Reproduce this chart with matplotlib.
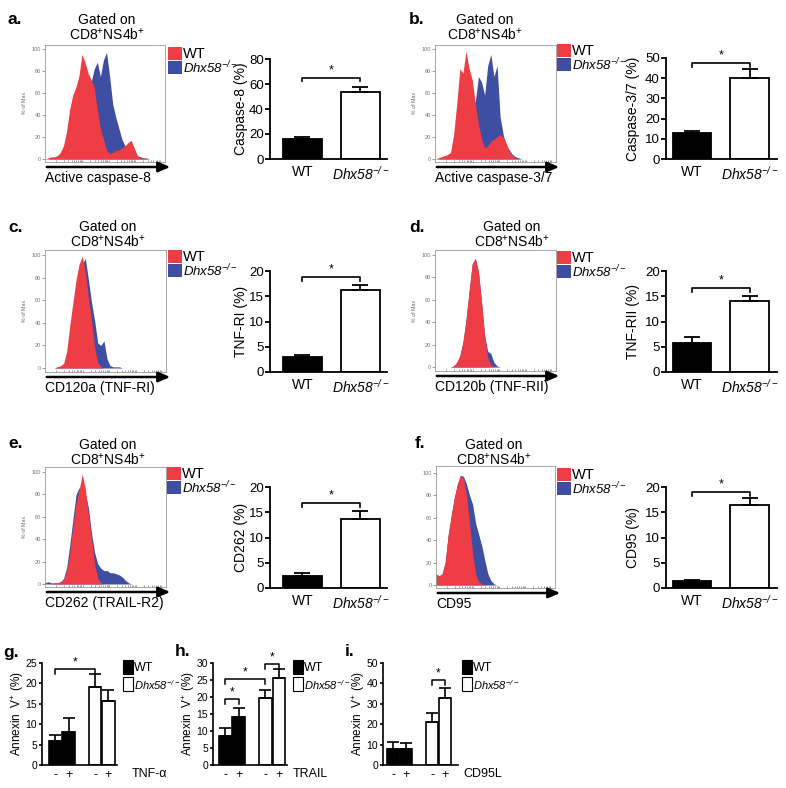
import matplotlib
matplotlib.use('Agg')
import numpy as np
import matplotlib.pyplot as plt
from matplotlib.patches import Rectangle, FancyArrowPatch

plt.rcParams['font.family'] = ['Liberation Sans', 'DejaVu Sans']
plt.rcParams['mathtext.fontset'] = 'custom'
plt.rcParams['mathtext.rm'] = 'Liberation Sans'
plt.rcParams['mathtext.it'] = 'Liberation Sans:italic'
plt.rcParams['mathtext.sf'] = 'Liberation Sans:italic'
plt.rcParams['mathtext.bf'] = 'Liberation Sans:bold'

# ---------------- data ----------------
hist_x = np.linspace(0, 1, 40)
hist_a_wt = [0,1,2,2,3,6,12,25,45,58, 65,75,95,88,78,72,65,45,28,18, 8,5,6,8,8,10,12,15,17,10, 3,1,1,0,0,0,0,0,0,0]
hist_a_ko = [0,0,1,1,1,2,4,8,15,20, 25,30,40,50,60,70,82,88,75,90, 97,75,50,38,28,18,12,12,12,8, 3,2,1,1,0,0,0,0,0,0]
hist_b_wt = [0,1,2,3,4,6,22,50,82,78, 98,82,72,50,32,18,10,12,16,18, 20,22,20,14,7,3,1,0,0,0, 0,0,0,0,0,0,0,0,0,0]
hist_b_ko = [0,0,1,1,2,3,8,15,25,30, 40,45,50,52,75,70,58,85,95,75, 85,38,22,12,8,4,2,1,0,0, 0,0,0,0,0,0,0,0,0,0]
hist_c_wt = [0,0,0,0,1,2,4,15,38,58, 78,92,99,85,62,42,18,5,1,0, 0,0,0,0,0,0,0,0,0,0, 0,0,0,0,0,0,0,0,0,0]
hist_c_ko = [0,0,0,0,1,1,2,10,30,50, 70,85,92,97,78,58,42,22,20,24, 8,2,1,1,1,0,0,0,0,0, 0,0,0,0,0,0,0,0,0,0]
hist_d_wt = [0,0,0,0,0,0,1,4,10,22, 42,68,92,97,85,58,28,8,2,0, 0,0,0,0,0,0,0,0,0,0, 0,0,0,0,0,0,0,0,0,0]
hist_d_ko = [0,0,0,0,0,0,1,4,10,22, 42,68,92,97,85,58,28,14,12,4, 1,0,0,0,0,0,0,0,0,0, 0,0,0,0,0,0,0,0,0,0]
hist_e_wt = [0,0,0,1,1,2,4,12,28,52, 72,84,98,85,62,40,18,5,1,0, 0,0,0,0,0,0,0,0,0,0, 0,0,0,0,0,0,0,0,0,0]
hist_e_ko = [1,2,1,1,1,2,5,15,35,58, 80,86,78,80,68,45,28,18,14,12, 12,10,10,9,8,6,3,1,0,0, 0,0,0,0,0,0,0,0,0,0]
hist_f_wt = [10,8,10,20,45,62,78,90,98,95, 80,55,28,10,3,1,0,0,0,0, 0,0,0,0,0,0,0,0,0,0, 0,0,0,0,0,0,0,0,0,0]
hist_f_ko = [10,8,10,20,45,62,78,90,98,97, 90,80,72,55,45,35,22,10,4,1, 0,0,0,0,0,0,0,0,0,0, 0,0,0,0,0,0,0,0,0,0]
hist_xlabels = ['Active caspase-8', 'Active caspase-3/7', 'CD120a (TNF-RI)',
                'CD120b (TNF-RII)', 'CD262 (TRAIL-R2)', 'CD95']

genotypes = ['WT', r'$\mathsf{Dhx58}^{\mathsf{-/-}}$']
bar_ylabels = ['Caspase-8 (%)', 'Caspase-3/7 (%)', 'TNF-RI (%)', 'TNF-RII (%)', 'CD262 (%)', 'CD95 (%)']
bar_a = [16, 54];   bar_a_err = [1.6, 4.0]
bar_b = [13, 40];   bar_b_err = [1.0, 4.5]
bar_c = [3.0, 16.3]; bar_c_err = [0.3, 1.0]
bar_d = [5.8, 14.0]; bar_d_err = [1.2, 1.0]
bar_e = [2.4, 13.7]; bar_e_err = [0.5, 1.6]
bar_f = [1.3, 16.5]; bar_f_err = [0.25, 1.3]
bar_ymax = [80, 50, 20, 20, 20, 20]
bar_ystep = [20, 10, 5, 5, 5, 5]
bar_sig_y = [65, 47.5, 18.8, 16.6, 16.8, 19.0]

treat_labels = ['-', '+', '-', '+']
treatments = ['TNF-α', 'TRAIL', 'CD95L']
g_vals = [6.0, 8.0, 19.0, 15.8]; g_err = [1.4, 3.6, 3.3, 2.7]
h_vals = [8.6, 14.0, 19.6, 25.5]; h_err = [2.2, 2.7, 2.5, 2.6]
i_vals = [8.0, 8.0, 21.0, 32.8]; i_err = [3.3, 3.0, 4.3, 5.1]
ann_ymax = [25, 30, 50]
ann_ystep = [5, 5, 10]

# ---------------- layout helpers ----------------
W, H = 786, 788
fig = plt.figure(figsize=(W / 100, H / 100), dpi=100)
RED = '#ee3d45'
BLUE = '#3e4ea3'


def ax_px(l, t, r, b):
    return fig.add_axes([l / W, 1 - b / H, (r - l) / W, (b - t) / H])


def txt(x, y, s, **kw):
    return fig.text(x / W, 1 - y / H, s, **kw)


def rect(x, y, w, h, **kw):
    fig.add_artist(Rectangle((x / W, 1 - (y + h) / H), w / W, h / H,
                             transform=fig.transFigure, **kw))


def arrow(x0, x1, y):
    fig.add_artist(FancyArrowPatch((x0 / W, 1 - y / H), (x1 / W, 1 - y / H),
                                   transform=fig.transFigure,
                                   arrowstyle='-|>,head_length=0.7,head_width=0.3',
                                   mutation_scale=10, lw=1.8, color='k'))


def hist_panel(box, y100, y0, wt, ko, xlabel, arrow_right, title_cx, title_y,
               leg_x, leg_y, ylab=True):
    l, t, r, b = box
    ax = ax_px(l, t, r, b)
    upp = 100.0 / (y0 - y100)
    ax.set_ylim(-(b - y0) * upp, 100 + (y100 - t) * upp)
    ax.set_xlim(0, 1)
    ax.fill_between(hist_x, ko, color=BLUE, lw=0)
    ax.fill_between(hist_x, wt, color=RED, lw=0)
    for s in ax.spines.values():
        s.set_color('#9a9a9a')
        s.set_linewidth(0.6)
    ax.set_yticks(np.arange(0, 101, 20))
    ax.tick_params(axis='y', labelsize=4, colors='#777777', length=2, width=0.5, pad=1)
    ticks = []
    for d in [0.09, 0.31, 0.53, 0.75]:
        for k in range(1, 10):
            p = d + 0.22 * np.log10(k)
            if p < 1:
                ticks.append(p)
    ax.set_xticks(ticks)
    ax.set_xticklabels([])
    ax.tick_params(axis='x', length=1.5, width=0.5, colors='#777777', direction='in')
    if ylab:
        txt(l - 20, (t + b) / 2, '% of Max', rotation=90, fontsize=3.8,
            color='#666666', ha='center', va='center')
    arrow(l - 1, arrow_right, b + 5)
    txt(l, b + 16, xlabel, fontsize=10, ha='left', va='center')
    txt(title_cx, title_y, 'Gated on', fontsize=10, ha='center', va='center')
    txt(title_cx, title_y + 15, r'CD8$^{+}$NS4b$^{+}$', fontsize=10, ha='center', va='center')
    rect(leg_x, leg_y, 14, 13, facecolor=RED, edgecolor='none')
    rect(leg_x, leg_y + 14, 14, 13, facecolor=BLUE, edgecolor='none')
    txt(leg_x + 15, leg_y + 7, 'WT', fontsize=10.5, ha='left', va='center')
    txt(leg_x + 15, leg_y + 21, genotypes[1], fontsize=9.5, ha='left', va='center')


def style_axis(ax, lw, tick_size, tick_len):
    for s in ['top', 'right']:
        ax.spines[s].set_visible(False)
    for s in ['left', 'bottom']:
        ax.spines[s].set_linewidth(lw)
    ax.tick_params(axis='y', labelsize=tick_size, length=tick_len, width=lw, pad=1)


def bar_panel(box, vals, errs, ymax, ystep, sig_y, ylabel, ylab_x, xlim):
    l, t, r, b = box
    ax = ax_px(l, t, r, b)
    xs = np.arange(len(vals))
    ax.bar(xs, vals, width=0.67, color=['black', 'white'], edgecolor='black', lw=1.3, zorder=2)
    ax.errorbar(xs, vals, yerr=[np.zeros(len(vals)), errs], fmt='none', ecolor='black',
                elinewidth=1.3, capsize=6, capthick=1.3, zorder=3)
    ax.set_ylim(0, ymax)
    ax.set_xlim(*xlim)
    ax.set_yticks(np.arange(0, ymax + 0.1, ystep))
    ax.set_xticks(xs)
    ax.set_xticklabels(genotypes, fontsize=10)
    ax.tick_params(axis='x', length=0, pad=4)
    style_axis(ax, 1.3, 9.5, 3.5)
    leg = ymax * 0.035
    ax.plot([0, 0, 1, 1], [sig_y - leg, sig_y, sig_y, sig_y - leg], color='k', lw=1.2, clip_on=False)
    ax.text(0.5, sig_y + ymax * 0.015, '*', ha='center', va='bottom', fontsize=9)
    txt(ylab_x, (t + b) / 2, ylabel, rotation=90, fontsize=10, ha='center', va='center')


def ann_panel(box, vals, errs, ymax, ystep, xlim, sigs, treat, treat_x, leg_x, ylab_x):
    l, t, r, b = box
    ax = ax_px(l, t, r, b)
    xs = np.array([0, 1, 3, 4])
    ax.bar(xs, vals, width=0.95, color=['black', 'black', 'white', 'white'],
           edgecolor='black', lw=1.2, zorder=2)
    ax.errorbar(xs, vals, yerr=[np.zeros(len(vals)), errs], fmt='none', ecolor='black',
                elinewidth=1.2, capsize=4, capthick=1.2, zorder=3)
    ax.set_ylim(0, ymax)
    ax.set_xlim(*xlim)
    ax.set_yticks(np.arange(0, ymax + 0.1, ystep))
    ax.set_xticks(xs)
    ax.set_xticklabels(treat_labels, fontsize=9)
    ax.tick_params(axis='x', length=0, pad=3)
    style_axis(ax, 1.2, 7.5, 2.5)
    leg = ymax * 0.05
    for (i0, i1, y) in sigs:
        ax.plot([xs[i0], xs[i0], xs[i1], xs[i1]], [y - leg, y, y, y - leg], color='k', lw=1.1,
                clip_on=False)
        ax.text((xs[i0] + xs[i1]) / 2, y + ymax * 0.01, '*', ha='center', va='bottom', fontsize=8.5)
    txt(treat_x, b + 9, treat, fontsize=9, ha='left', va='center')
    rect(leg_x, 660, 10, 14, facecolor='black', edgecolor='black', lw=0.8)
    rect(leg_x, 677, 10, 14, facecolor='white', edgecolor='black', lw=0.8)
    txt(leg_x + 11, 668, 'WT', fontsize=9, ha='left', va='center')
    txt(leg_x + 11, 685, genotypes[1], fontsize=8, ha='left', va='center')
    txt(ylab_x, (t + b) / 2, r'Annexin  V$^{+}$ (%)', rotation=90, fontsize=8.5,
        ha='center', va='center')


# ---------------- histograms ----------------
hist_panel((45, 45, 165, 162), 49, 159, hist_a_wt, hist_a_ko, hist_xlabels[0], 173, 107, 20, 168, 47)
hist_panel((435, 45, 556, 162), 49, 159, hist_b_wt, hist_b_ko, hist_xlabels[1], 562, 485, 20, 557, 44)
hist_panel((45, 250, 166, 372), 255, 368, hist_c_wt, hist_c_ko, hist_xlabels[2], 173, 108, 227, 168, 250)
hist_panel((435, 250, 556, 371), 255, 367, hist_d_wt, hist_d_ko, hist_xlabels[3], 562, 512, 227, 557, 251)
hist_panel((45, 467, 166, 587), 472, 584, hist_e_wt, hist_e_ko, hist_xlabels[4], 173, 108, 445, 167, 467)
hist_panel((436, 466, 555, 588), 473, 585, hist_f_wt, hist_f_ko, hist_xlabels[5], 563, 494, 445, 557, 468, ylab=False)

# ---------------- bar charts ----------------
bars = [bar_a, bar_b, bar_c, bar_d, bar_e, bar_f]
errs = [bar_a_err, bar_b_err, bar_c_err, bar_d_err, bar_e_err, bar_f_err]
boxes = [(270, 59, 387, 159), (666, 58, 777, 159), (270, 271, 387, 372),
         (666, 271, 777, 372), (270, 487, 387, 588), (666, 487, 777, 588)]
ylab_xs = [241, 633, 241, 633, 241, 633]
for k in range(6):
    xl = (-0.56, 1.46) if k % 2 == 0 else (-0.45, 1.47)
    bar_panel(boxes[k], bars[k], errs[k], bar_ymax[k], bar_ystep[k], bar_sig_y[k],
              bar_ylabels[k], ylab_xs[k], xl)

# ---------------- annexin panels ----------------
ann_panel((42, 663, 117, 765), g_vals, g_err, ann_ymax[0], ann_ystep[0], (-1.02, 4.66),
          [(0, 2, 23.5)], treatments[0], 132, 123, 18)
ann_panel((213, 663, 287, 765), h_vals, h_err, ann_ymax[1], ann_ystep[1], (-0.9, 4.6),
          [(0, 1, 19.4), (0, 2, 25.2), (2, 3, 29.6)], treatments[1], 293, 293, 189)
ann_panel((383, 663, 458, 765), i_vals, i_err, ann_ymax[2], ann_ystep[2], (-0.77, 5.0),
          [(2, 3, 41.5)], treatments[2], 463, 462, 359)

# ---------------- panel letters ----------------
for lab, x, y in [('a.', 8, 19), ('b.', 409, 20), ('c.', 8, 227), ('d.', 409, 228),
                  ('e.', 8, 443), ('f.', 415, 443), ('g.', 3, 652), ('h.', 175, 652),
                  ('i.', 345, 652)]:
    txt(x, y, lab, fontsize=12.5, fontweight='bold', ha='left', va='center')

fig.savefig('out.png', dpi=100)
